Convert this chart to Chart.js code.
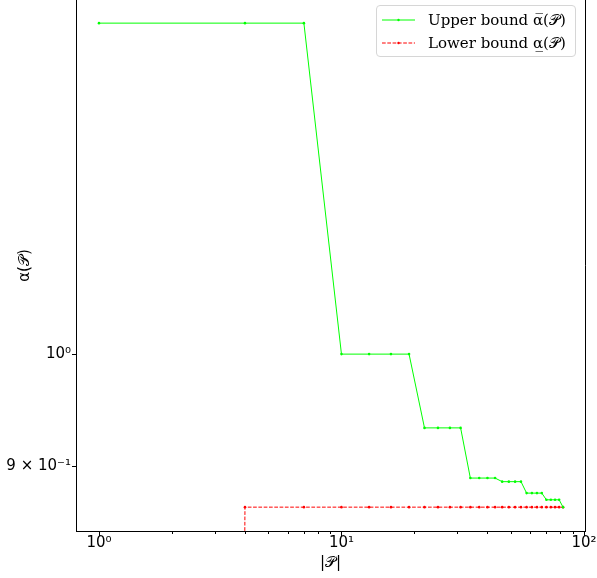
<!DOCTYPE html>
<html><head><meta charset="utf-8">
<script src="https://cdn.jsdelivr.net/npm/chart.js@4"></script>
<style>
html,body{margin:0;padding:0;background:#fff;}
#wrap{position:relative;width:597px;height:578px;}
#legend{position:absolute;left:376px;top:5px;width:200px;height:52px;box-sizing:border-box;border:1px solid #d6d6d6;border-radius:4px;background:rgba(255,255,255,0.8);font:15px "DejaVu Serif";color:#000;}
.item{position:absolute;left:5px;height:20px;display:flex;align-items:center;white-space:nowrap;}
.item svg{margin-right:13px;}
</style></head>
<body><div id="wrap"><canvas id="c" width="597" height="578"></canvas><div id="legend"></div></div>
<script>
// Partition sizes |P| (x values)
const partitionSizes = [1,4,7,10,13,16,19,22,25,28,31,34,37,40,43,46,49,52,55,58,61,64,67,70,73,76,79,82];
// Upper bound values
const upperBound = [1.365,1.365,1.365,1.0,1.0,1.0,1.0,0.933,0.933,0.933,0.933,0.890,0.890,0.890,0.890,0.887,0.887,0.887,0.887,0.8775,0.8775,0.8775,0.8775,0.872,0.872,0.872,0.872,0.866];
// Lower bound values (first value is ~0, i.e. off the bottom of the log axis)
const lowerBound = [1e-9,0.866,0.866,0.866,0.866,0.866,0.866,0.866,0.866,0.866,0.866,0.866,0.866,0.866,0.866,0.866,0.866,0.866,0.866,0.866,0.866,0.866,0.866,0.866,0.866,0.866,0.866,0.866];
const seriesNames = ['Upper bound α\u0305(\uD835\uDCAB)','Lower bound α\u0332(\uD835\uDCAB)'];
// Tick positions / labels
const xTickValues = [1,2,3,4,5,6,7,8,9,10,20,30,40,50,60,70,80,90,100];
const xMajorLabels = {1:'10⁰',10:'10¹',100:'10²'};
const yTickValues = [0.9,1.0];
const yTickLabels = ['9 × 10⁻¹','10⁰'];
const xTitle = '|\uD835\uDCAB|';
const yTitle = 'α(\uD835\uDCAB)';

const colors = ['#00ff00','#ff0000'];
const dashes = [[],[3.7,1.6]];

function pts(ys){ return partitionSizes.map((x,i)=>({x:x,y:ys[i]})); }

const tickMarks = {
  id:'tickMarks',
  afterDraw(chart){
    const ctx = chart.ctx, a = chart.chartArea;
    const xs = chart.scales.x, ys = chart.scales.y;
    ctx.save();
    ctx.strokeStyle = '#000'; ctx.lineWidth = 1;
    // right spine
    ctx.beginPath(); ctx.moveTo(Math.round(a.right)+0.5, a.top); ctx.lineTo(Math.round(a.right)+0.5, a.bottom+0.5); ctx.stroke();
    xTickValues.forEach(v=>{
      const p = Math.round(xs.getPixelForValue(v))+0.5;
      const len = xMajorLabels[v] ? 5 : 3;
      ctx.beginPath(); ctx.moveTo(p, a.bottom); ctx.lineTo(p, a.bottom+len); ctx.stroke();
    });
    yTickValues.forEach(v=>{
      const p = Math.round(ys.getPixelForValue(v))+0.5;
      ctx.beginPath(); ctx.moveTo(a.left, p); ctx.lineTo(a.left-4, p); ctx.stroke();
    });
    ctx.restore();
  }
};

const chart = new Chart(document.getElementById('c'), {
  type:'scatter',
  data:{datasets:[
    {label:seriesNames[0], data:pts(upperBound), showLine:true, borderColor:colors[0], backgroundColor:colors[0], borderWidth:1, pointRadius:1.3, pointBorderWidth:0, borderDash:dashes[0]},
    {label:seriesNames[1], data:pts(lowerBound), showLine:true, borderColor:colors[1], backgroundColor:colors[1], borderWidth:1, pointRadius:1.3, pointBorderWidth:0, borderDash:dashes[1]}
  ]},
  options:{
    responsive:false, animation:false, devicePixelRatio:1,
    layout:{autoPadding:false, padding:{left:0,right:12,top:0,bottom:0}},
    plugins:{legend:{display:false}, tooltip:{enabled:false}},
    scales:{
      x:{type:'logarithmic', min:0.804, max:101, bounds:'data',
        afterBuildTicks(s){ s.ticks = xTickValues.map(v=>({value:v, major:!!xMajorLabels[v]})); },
        afterFit(s){ s.height = 47; s.paddingLeft = 0; s.paddingRight = 0; },
        grid:{display:false, drawTicks:false, tickLength:0}, border:{display:true,color:'#000',width:1},
        ticks:{autoSkip:false, maxRotation:0, padding:3, color:'#000', font:{family:'DejaVu Sans',size:15},
          callback(v){ return xMajorLabels[v] || ''; }},
        title:{display:true, text:xTitle, color:'#000', font:{family:'DejaVu Sans',size:15}, padding:{top:6,bottom:6}}
      },
      y:{type:'logarithmic', min:0.8468, max:1.395, bounds:'data',
        afterBuildTicks(s){ s.ticks = yTickValues.map(v=>({value:v})); },
        afterFit(s){ s.width = 76; s.paddingTop = 0; s.paddingBottom = 0; },
        grid:{display:false, drawTicks:false, tickLength:0}, border:{display:true,color:'#000',width:1},
        ticks:{autoSkip:false, padding:5, color:'#000', font:{family:'DejaVu Sans',size:15},
          callback(v){ const i = yTickValues.indexOf(v); return i>=0 ? yTickLabels[i] : ''; }},
        title:{display:true, text:yTitle, color:'#000', font:{family:'DejaVu Sans',size:15}, padding:{top:16,bottom:16}}
      }
    }
  },
  plugins:[tickMarks]
});

// HTML legend built from datasets
const leg = document.getElementById('legend');
chart.data.datasets.forEach((ds,i)=>{
  const d = document.createElement('div');
  d.className = 'item';
  d.style.top = (4 + i*23) + 'px';
  const dash = (ds.borderDash||[]).join(',');
  d.innerHTML = '<svg width="33" height="8"><line x1="0" y1="4" x2="33" y2="4" stroke="'+ds.borderColor+'" stroke-width="1" '+(dash?'stroke-dasharray="'+dash+'"':'')+'/><circle cx="16.5" cy="4" r="1.2" fill="'+ds.borderColor+'"/></svg>';
  const t = document.createElement('span');
  t.textContent = ds.label;
  d.appendChild(t);
  leg.appendChild(d);
});
</script>
</body></html>
